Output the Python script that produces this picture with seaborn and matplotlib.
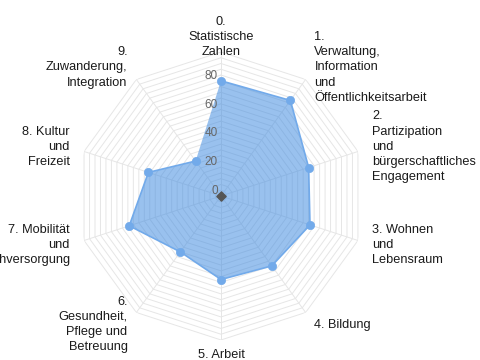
import numpy as np
import pandas as pd
import seaborn as sns
import matplotlib
matplotlib.use("Agg")
import matplotlib.pyplot as plt

# Chart data
categories = [
    "0.\nStatistische\nZahlen",
    "1.\nVerwaltung,\nInformation\nund\nÖffentlichkeitsarbeit",
    "2.\nPartizipation\nund\nbürgerschaftliches\nEngagement",
    "3. Wohnen\nund\nLebensraum",
    "4. Bildung",
    "5. Arbeit",
    "6.\nGesundheit,\nPflege und\nBetreuung",
    "7. Mobilität\nund\nNahversorgung",
    "8. Kultur\nund\nFreizeit",
    "9.\nZuwanderung,\nIntegration",
]
scores = [80, 82, 64, 65, 60, 58, 48, 67, 53, 30]
tick_values = [0, 20, 40, 60, 80]
r_max = 100

sns.set_style("white")
plt.rcParams["font.family"] = ["Liberation Sans", "DejaVu Sans"]

n = len(categories)
theta = np.arange(n) * 2 * np.pi / n

fig = plt.figure(figsize=(4.8, 3.6), dpi=100)
ax = fig.add_axes([0.1604, 0.0556, 0.6, 0.8], projection="polar")
ax.set_theta_offset(np.pi / 2)
ax.set_theta_direction(-1)
ax.set_ylim(0, r_max)
ax.grid(False)
ax.spines["polar"].set_visible(False)
ax.set_xticks([])
ax.set_yticks([])

# polygon grid
grid_color = "#e6e6e6"
ring_theta = np.append(theta, theta[0])
for level in np.arange(4, r_max + 1, 4):
    ax.plot(ring_theta, np.full(n + 1, level), color=grid_color, lw=0.7, zorder=1)
for t in theta:
    ax.plot([t, t], [0, r_max], color=grid_color, lw=0.7, zorder=1)

# data polygon
df = pd.DataFrame({
    "theta": np.append(theta, theta[0]),
    "score": scores + [scores[0]],
})
ax.fill(df["theta"], df["score"], color="#3c89e0", alpha=0.52, lw=0, zorder=2)
sns.lineplot(data=df, x="theta", y="score", sort=False, ax=ax,
             color="#72aaea", lw=1.2, zorder=3)
sns.scatterplot(x=theta, y=scores, ax=ax, color="#72aaea", s=36,
                edgecolor="#72aaea", zorder=4, legend=False)
ax.scatter([0], [0], marker="D", s=22, color="#555555", zorder=5)
ax.set_xlabel("")
ax.set_ylabel("")
ax.set_ylim(0, r_max)

# tick labels
for v in tick_values:
    ax.annotate(str(v), xy=(0, v), xytext=(-3, 5), textcoords="offset pixels",
                ha="right", va="center", fontsize=8.5, color="#666666", zorder=6)

# category labels
label_r = r_max * 1.104
for t, lab in zip(theta, categories):
    deg = np.degrees(t) % 360
    if np.isclose(deg, 0) or np.isclose(deg, 180):
        ha = "center"
    elif deg < 180:
        ha = "left"
    else:
        ha = "right"
    ax.text(t, label_r, lab, ha=ha, va="center", multialignment=ha,
            fontsize=9.2, color="#1a1a1a", linespacing=1.36)

fig.savefig("out.png", dpi=100)
